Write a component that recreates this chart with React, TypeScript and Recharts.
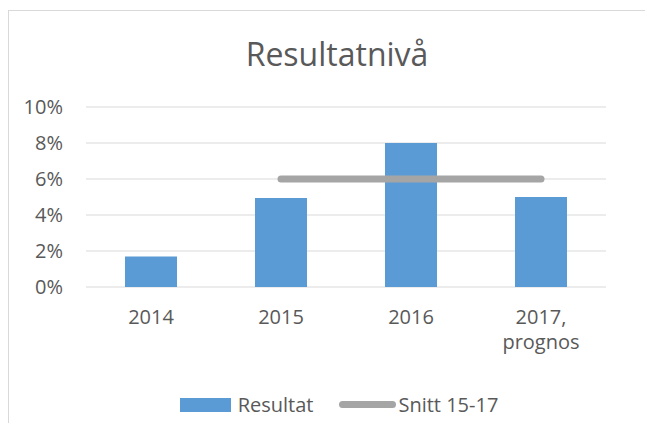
import { ComposedChart, Bar, Line, XAxis, YAxis, CartesianGrid } from 'recharts';

const categories = ['2014', '2015', '2016', '2017, prognos'];
const resultat = [1.7, 4.95, 8.0, 5.0];
const snitt = [null, 6, 6, 6];
const yTicks = [0, 2, 4, 6, 8, 10];
const seriesNames = ['Resultat', 'Snitt 15-17'];
const title = 'Resultatnivå';

const data = categories.map((name, i) => ({ name, resultat: resultat[i], snitt: snitt[i] }));

const FONT = '"Open Sans", sans-serif';
const TEXT = '#595959';
const BLUE = '#5B9BD5';
const GREY = '#A5A5A5';

const CategoryTick = (props: any) => {
  const { x, y, payload } = props;
  const parts = String(payload.value).split(' ');
  return (
    <text x={x} y={y} textAnchor="middle" fill={TEXT} fontSize={20} fontFamily={FONT}>
      {parts.map((p: string, i: number) => (
        <tspan key={i} x={x} dy={i === 0 ? '0.71em' : 25}>{p}</tspan>
      ))}
    </text>
  );
};

const App = () => {
  return (
    <div style={{ position: 'relative', marginTop: 2, width: 636, height: 412, overflow: 'hidden', borderTop: '1px solid #D9D9D9', borderLeft: '1px solid #D9D9D9', fontFamily: FONT }}>
      <div style={{ position: 'absolute', top: 27, left: 18, width: 620, textAlign: 'center', fontSize: 32, lineHeight: '32px', color: TEXT }}>
        {title}
      </div>
      <ComposedChart width={636} height={412} data={data} margin={{ top: 96, right: 39, bottom: 106, left: 0 }} barCategoryGap="30%">
        <CartesianGrid vertical={false} stroke="#D9D9D9" strokeWidth={1} />
        <XAxis dataKey="name" height={30} axisLine={false} tickLine={false} tickMargin={17} tick={<CategoryTick />} interval={0} />
        <YAxis width={77} domain={[0, 10]} ticks={yTicks} tickFormatter={(v: number) => `${v}%`} axisLine={false} tickLine={false} tickMargin={17}
          tick={{ fill: TEXT, fontSize: 20, fontFamily: FONT }} />
        <Bar dataKey="resultat" name={seriesNames[0]} fill={BLUE} isAnimationActive={false} />
        <Line dataKey="snitt" name={seriesNames[1]} stroke={GREY} strokeWidth={7} strokeLinecap="round" dot={false} activeDot={false} isAnimationActive={false} />
      </ComposedChart>
      <div style={{ position: 'absolute', top: 380, left: 30, width: 600, display: 'flex', justifyContent: 'center', alignItems: 'center', fontSize: 20, color: TEXT }}>
        <span style={{ display: 'inline-block', width: 51, height: 14, background: BLUE, marginRight: 7 }} />
        <span>{seriesNames[0]}</span>
        <span style={{ display: 'inline-block', width: 57, height: 7, borderRadius: 4, background: GREY, marginLeft: 26, marginRight: 2 }} />
        <span>{seriesNames[1]}</span>
      </div>
    </div>
  );
};

export default App;
